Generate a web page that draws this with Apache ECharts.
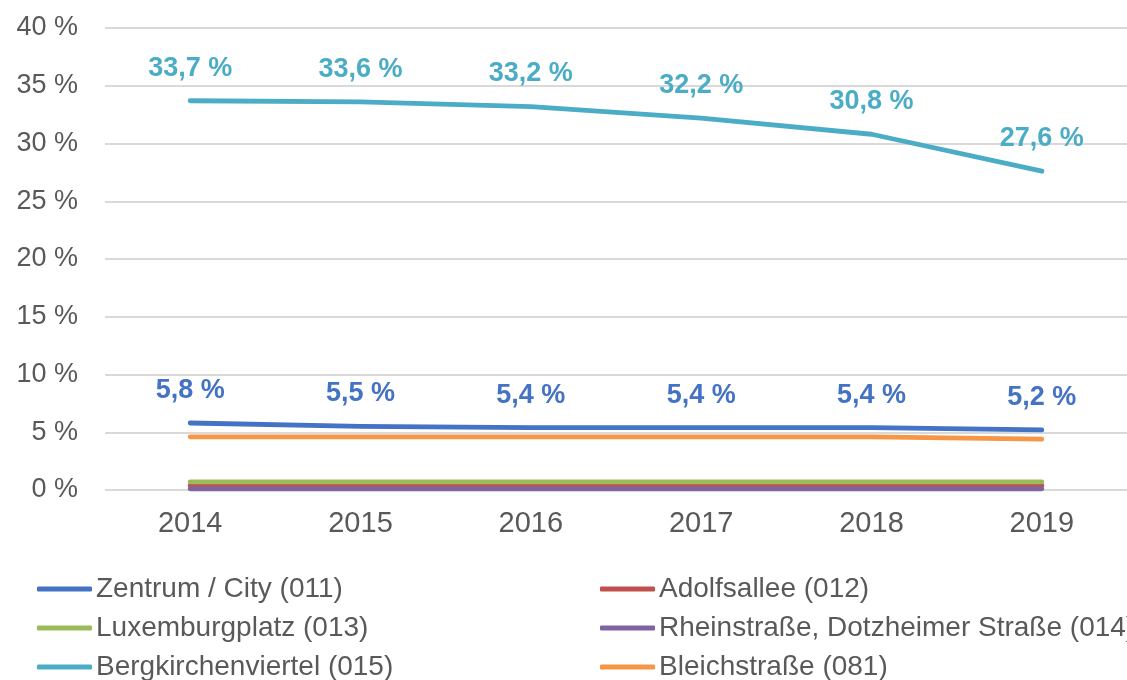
<!DOCTYPE html>
<html>
<head>
<meta charset="utf-8">
<script src="https://cdn.jsdelivr.net/npm/echarts@6/dist/echarts.min.js"></script>
<style>
  html, body { margin: 0; padding: 0; background: #fff; }
  #chart { width: 1127px; height: 680px; }
</style>
</head>
<body>
<div id="chart"></div>
<script>
// Jahre
var years = ['2014', '2015', '2016', '2017', '2018', '2019'];

// Anteile in %
var zentrum = [5.8, 5.5, 5.4, 5.4, 5.4, 5.2];
var adolfsallee = [0.4, 0.4, 0.4, 0.4, 0.4, 0.4];
var luxemburgplatz = [0.7, 0.7, 0.7, 0.7, 0.7, 0.7];
var rheinstrasse = [0.1, 0.1, 0.1, 0.1, 0.1, 0.1];
var bergkirchen = [33.7, 33.6, 33.2, 32.2, 30.8, 27.6];
var bleichstrasse = [4.6, 4.6, 4.6, 4.6, 4.6, 4.4];

var names = [
  'Zentrum / City (011)',
  'Adolfsallee (012)',
  'Luxemburgplatz (013)',
  'Rheinstraße, Dotzheimer Straße (014)',
  'Bergkirchenviertel (015)',
  'Bleichstraße (081)'
];
var colors = ['#4472C4', '#C0504D', '#9BBB59', '#8064A2', '#4BACC6', '#F79646'];

var font = '"Liberation Sans", Arial, sans-serif';
var grey = '#595959';

function fmt(v) {
  return v.toFixed(1).replace('.', ',') + ' %';
}

function lineSeries(idx, data, withLabel) {
  return {
    name: names[idx],
    type: 'line',
    data: data,
    symbol: 'circle',
    symbolSize: 0,
    showSymbol: true,
    lineStyle: { width: 4.8, color: colors[idx], cap: 'round', join: 'round' },
    itemStyle: { color: colors[idx] },
    label: {
      show: withLabel,
      position: 'top',
      distance: 19,
      fontFamily: font,
      fontSize: 27,
      fontWeight: 'bold',
      color: colors[idx],
      formatter: function (p) { return fmt(p.value); }
    },
    emphasis: { disabled: true },
    animation: false
  };
}

// Legende: zwei Spalten mit je drei Einträgen
var legendBase = {
  orient: 'vertical',
  top: 575,
  height: 120,
  padding: 0,
  itemWidth: 55,
  itemHeight: 5,
  itemGap: 11,
  icon: 'roundRect',
  textStyle: { fontFamily: font, fontSize: 28, color: grey, padding: [0, 0, 0, -1] }
};

var chart = echarts.init(document.getElementById('chart'));
chart.setOption({
  backgroundColor: '#fff',
  color: colors,
  grid: { left: 105, right: 0, top: 28, bottom: 190, containLabel: false },
  legend: [
    Object.assign({}, legendBase, { left: 37, data: [names[0], names[2], names[4]] }),
    Object.assign({}, legendBase, { left: 600, data: [names[1], names[3], names[5]] })
  ],
  xAxis: {
    type: 'category',
    data: years,
    boundaryGap: true,
    axisLine: { show: false },
    axisTick: { show: false },
    axisLabel: { fontFamily: font, fontSize: 29, color: grey, margin: 19 }
  },
  yAxis: {
    type: 'value',
    min: 0,
    max: 40,
    interval: 5,
    axisLine: { show: false },
    axisTick: { show: false },
    axisLabel: {
      fontFamily: font, fontSize: 27, color: grey, margin: 27,
      formatter: '{value} %'
    },
    splitLine: { lineStyle: { color: '#D9D9D9', width: 2 } }
  },
  series: [
    lineSeries(0, zentrum, true),
    lineSeries(1, adolfsallee, false),
    lineSeries(2, luxemburgplatz, false),
    lineSeries(3, rheinstrasse, false),
    lineSeries(4, bergkirchen, true),
    lineSeries(5, bleichstrasse, false)
  ]
});
</script>
</body>
</html>
